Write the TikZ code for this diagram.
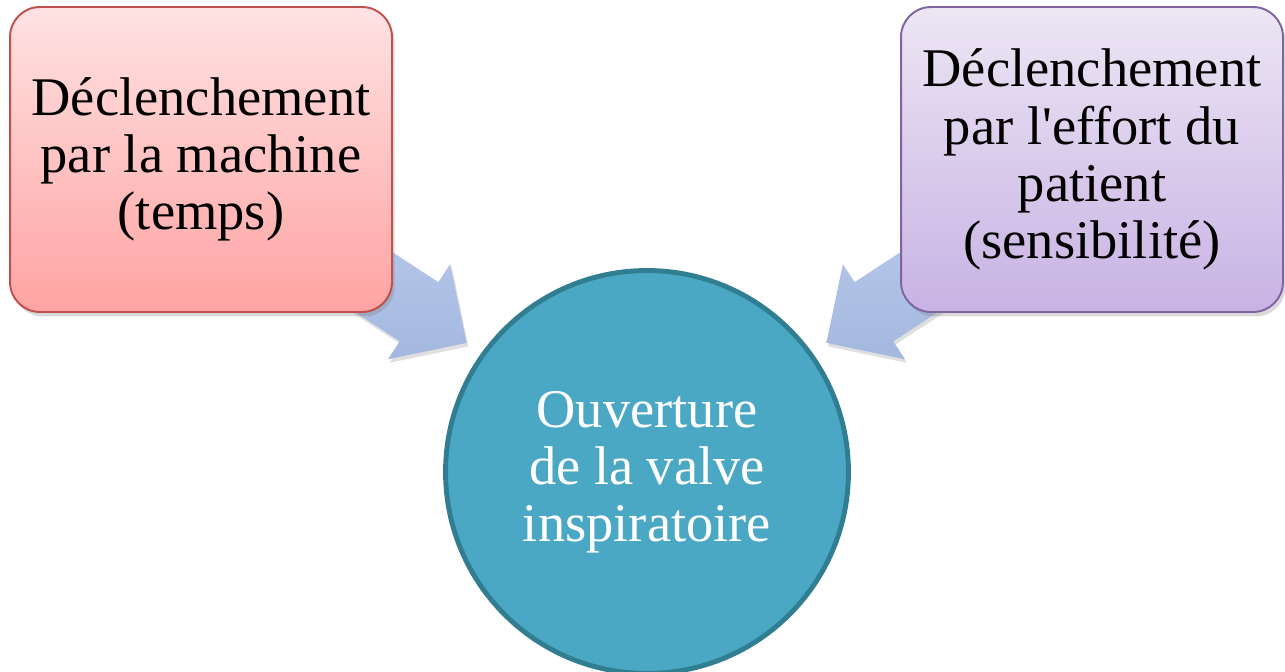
\documentclass[tikz,border=0pt]{standalone}
\usepackage{fontspec}
\setmainfont{Liberation Serif}
\usetikzlibrary{shapes.arrows,shadows,backgrounds}
\definecolor{machineRed}{RGB}{192,80,77}
\definecolor{machineTop}{RGB}{255,226,226}
\definecolor{machineBot}{RGB}{255,163,163}
\definecolor{patientPurple}{RGB}{128,100,162}
\definecolor{patientTop}{RGB}{236,230,244}
\definecolor{patientBot}{RGB}{200,178,228}
\definecolor{valveTeal}{RGB}{75,168,196}
\definecolor{valveDark}{RGB}{49,126,146}
\definecolor{arrowTop}{RGB}{182,200,234}
\definecolor{arrowBot}{RGB}{164,183,222}
\newcommand{\boxfont}{\fontsize{31}{32.5}\selectfont}
\tikzset{
  triggerbox/.style={rounded corners=17pt,line width=1.1pt,minimum width=7.64cm,minimum height=6.1cm,
    align=center,font=\boxfont,drop shadow={opacity=0.3,shadow xshift=1.5pt,shadow yshift=-2.5pt}},
  blockarrow/.style={single arrow,single arrow tip angle=90,single arrow head extend=0.43cm,
    inner xsep=0pt,inner ysep=0.7cm,minimum height=3.16cm,top color=arrowTop,bottom color=arrowBot,
    draw=none,drop shadow={opacity=0.25,shadow xshift=1pt,shadow yshift=-2pt}}
}
\begin{document}
\begin{tikzpicture}[x=0.02cm,y=-0.02cm]
\useasboundingbox (0,0) rectangle (1285,672);
\node[triggerbox,draw=machineRed,top color=machineTop,bottom color=machineBot] (machine) at (201,159.5)
  {Déclenchement\\par la machine\\(temps)};
\node[triggerbox,draw=patientPurple,top color=patientTop,bottom color=patientBot] (patient) at (1092,159.5)
  {Déclenchement\\par l\textquotesingle effort du\\patient\\(sensibilité)};
\node[circle,inner sep=0pt,minimum size=8.06cm,fill=valveTeal,draw=valveDark,line width=2.8pt,
  text=white,font=\boxfont,align=center] (valve) at (647,472) {Ouverture\\de la valve\\inspiratoire};
% block arrows go under the boxes
\begin{scope}[on background layer]
\node[blockarrow,rotate=-33.2,anchor=tip] (machineArrow) at ([shift={(-15,-9)}]valve.144) {};
\node[blockarrow,rotate=-146.8,anchor=tip] (patientArrow) at ([shift={(14,-9)}]valve.36) {};
\end{scope}
\end{tikzpicture}
\end{document}
